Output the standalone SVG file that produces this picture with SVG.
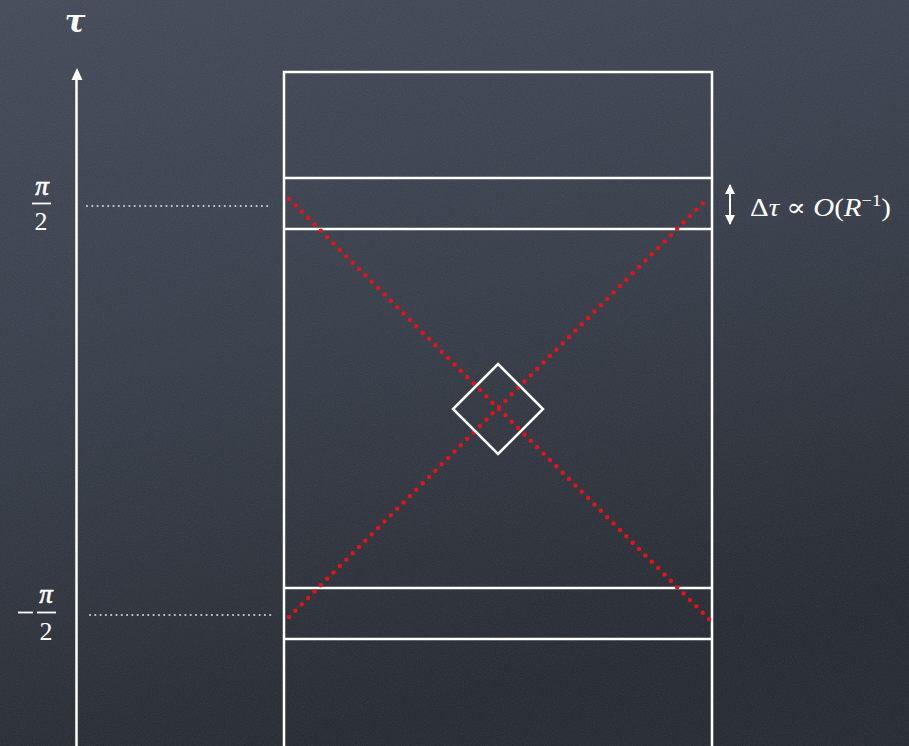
<svg xmlns="http://www.w3.org/2000/svg" width="909" height="746" viewBox="0 0 909 746">
<defs>
<linearGradient id="bg" x1="0" y1="0" x2="0.3" y2="1">
<stop offset="0" stop-color="#414856"/>
<stop offset="0.5" stop-color="#353b47"/>
<stop offset="1" stop-color="#23272f"/>
</linearGradient>
<filter id="chalk" x="0" y="0" width="100%" height="100%">
<feTurbulence type="fractalNoise" baseFrequency="0.9" numOctaves="2" seed="3" result="n"/>
<feColorMatrix type="matrix" values="0 0 0 0 1  0 0 0 0 1  0 0 0 0 1  0 0 0 0.08 0"/>
</filter>
<marker id="ah" viewBox="0 0 10 10" refX="9" refY="5" markerWidth="10" markerHeight="10" markerUnits="userSpaceOnUse" orient="auto-start-reverse">
<path d="M0,0 L10,5 L0,10 z" fill="#ffffff"/>
</marker>
<style>
.w{stroke:#ffffff;stroke-width:2.5;fill:none}
.red{stroke:#e0141a;stroke-width:4.5;stroke-linecap:round;stroke-dasharray:0 9;fill:none}
.dot{stroke:#c9cdd3;stroke-width:2.2;stroke-linecap:round;stroke-dasharray:0 5.3;fill:none}
.m{font-family:"DejaVu Serif","Liberation Serif",serif;fill:#ffffff}
.n{font-family:"Liberation Serif","DejaVu Serif",serif;fill:#ffffff}
.pi{font-family:"Liberation Serif","DejaVu Serif",serif;fill:#ffffff;stroke:#ffffff;stroke-width:0.6;font-style:italic;font-size:27px}
</style>
</defs>
<rect width="909" height="746" fill="url(#bg)"/>
<rect width="909" height="746" filter="url(#chalk)"/>
<g id="axis">
<line x1="76.5" y1="746" x2="76.5" y2="80" class="w"/>
<path d="M71.5,80 L77,68 L82.5,80 z" fill="#ffffff"/>
<text x="75" y="32" class="m" font-size="31" font-weight="bold" font-style="italic" text-anchor="middle">τ</text>
</g>
<g id="labels">
<text x="42" y="195" class="pi" text-anchor="middle">π</text>
<line x1="32" y1="203.5" x2="51" y2="203.5" stroke="#fff" stroke-width="1.8"/>
<text x="41" y="230" class="n" font-size="26" text-anchor="middle">2</text>
<line x1="18" y1="612.5" x2="33" y2="612.5" stroke="#fff" stroke-width="1.8"/>
<text x="46" y="603" class="pi" text-anchor="middle">π</text>
<line x1="37" y1="612.5" x2="56" y2="612.5" stroke="#fff" stroke-width="1.8"/>
<text x="46" y="640" class="n" font-size="26" text-anchor="middle">2</text>
</g>
<g id="strip">
<rect x="284" y="72" width="428" height="700" class="w"/>
<line x1="284" y1="178" x2="712" y2="178" class="w"/>
<line x1="284" y1="229" x2="712" y2="229" class="w"/>
<line x1="284" y1="588" x2="712" y2="588" class="w"/>
<line x1="284" y1="639" x2="712" y2="639" class="w"/>
</g>
<g id="connectors">
<line x1="87" y1="206" x2="268" y2="206" class="dot"/>
<line x1="90" y1="615" x2="272" y2="615" class="dot"/>
<line x1="289" y1="199" x2="711" y2="621" class="red"/>
<line x1="289" y1="617" x2="709" y2="197" class="red"/>
</g>
<g id="diamond">
<path d="M498,364 L543,409 L498,454 L453,409 Z" class="w"/>
</g>
<g id="delta">
<line x1="730" y1="185" x2="730" y2="224" stroke="#fff" stroke-width="2" marker-start="url(#ah)" marker-end="url(#ah)"/>
<text x="750" y="216" class="n" font-size="25" textLength="141" lengthAdjust="spacingAndGlyphs">Δ<tspan font-style="italic">τ</tspan> ∝ <tspan font-style="italic">O</tspan>(<tspan font-style="italic">R</tspan><tspan font-size="16" dy="-10">−1</tspan><tspan dy="10">)</tspan></text>
</g>
</svg>
